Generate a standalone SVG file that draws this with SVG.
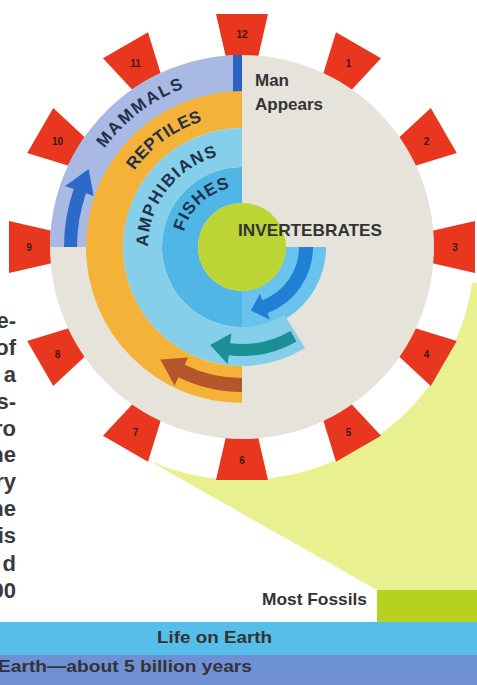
<svg xmlns="http://www.w3.org/2000/svg" width="477" height="685" viewBox="0 0 477 685">
<style>
.tab{fill:#e8361f}
.num{font-family:"Liberation Sans",Arial,sans-serif;font-weight:bold;font-size:10px;fill:#3b1a12;text-anchor:middle}
.band{font-family:"Liberation Sans",Arial,sans-serif;font-weight:bold;font-size:17px;fill:#22304a}
.lbl{font-family:"Liberation Sans",Arial,sans-serif;font-weight:bold;fill:#333333}
.side{font-family:"Liberation Sans",Arial,sans-serif;font-weight:bold;font-size:22px;fill:#3a3a3a;text-anchor:end}
</style>
<defs>
<polygon id="tabshape" points="-15,-185 15,-185 26,-233 -26,-233"/>
<path id="p-mammals" d="M 77.3 209.0 A 169 169 0 0 1 250.8 78.2"/>
<path id="p-reptiles" d="M 113.9 215.1 A 132 132 0 0 1 251.2 115.3"/>
<path id="p-amphibians" d="M 150.1 266.5 A 94 94 0 0 1 238.7 153.1"/>
<path id="p-fishes" d="M 183.5 260.5 A 60 60 0 0 1 259.5 189.6"/>
</defs>
<rect x="0" y="0" width="477" height="685" fill="#ffffff"/>

<g id="cone">
<polygon points="242,247 477,283 477,590 377,590 153,463" fill="#e9f08f"/>
<rect x="377" y="590" width="100" height="32" fill="#b6d21f"/>
</g>
<circle id="ring" cx="242" cy="247" r="233" fill="#ffffff"/>

<g id="tabs">
<g id="tab-12"><use href="#tabshape" class="tab" transform="translate(242 247) rotate(0)"/><text class="num" x="242" y="38">12</text></g>
<g id="tab-1"><use href="#tabshape" class="tab" transform="translate(242 247) rotate(30)"/><text class="num" x="348.5" y="66.5">1</text></g>
<g id="tab-2"><use href="#tabshape" class="tab" transform="translate(242 247) rotate(60)"/><text class="num" x="426.5" y="144.5">2</text></g>
<g id="tab-3"><use href="#tabshape" class="tab" transform="translate(242 247) rotate(90)"/><text class="num" x="455" y="251">3</text></g>
<g id="tab-4"><use href="#tabshape" class="tab" transform="translate(242 247) rotate(120)"/><text class="num" x="426.5" y="357.5">4</text></g>
<g id="tab-5"><use href="#tabshape" class="tab" transform="translate(242 247) rotate(150)"/><text class="num" x="348.5" y="435.5">5</text></g>
<g id="tab-6"><use href="#tabshape" class="tab" transform="translate(242 247) rotate(180)"/><text class="num" x="242" y="464">6</text></g>
<g id="tab-7"><use href="#tabshape" class="tab" transform="translate(242 247) rotate(210)"/><text class="num" x="135.5" y="435.5">7</text></g>
<g id="tab-8"><use href="#tabshape" class="tab" transform="translate(242 247) rotate(240)"/><text class="num" x="57.5" y="357.5">8</text></g>
<g id="tab-9"><use href="#tabshape" class="tab" transform="translate(242 247) rotate(270)"/><text class="num" x="29" y="251">9</text></g>
<g id="tab-10"><use href="#tabshape" class="tab" transform="translate(242 247) rotate(300)"/><text class="num" x="57.5" y="144.5">10</text></g>
<g id="tab-11"><use href="#tabshape" class="tab" transform="translate(242 247) rotate(330)"/><text class="num" x="135.5" y="66.5">11</text></g>
</g>

<circle id="disk" cx="242" cy="247" r="192" fill="#e6e3db"/>

<g id="mammals"><path d="M 50 247 A 192 192 0 0 1 242 55 L 242 92 A 155 155 0 0 0 87 247 Z" fill="#a8b9e4"/>
<rect x="233" y="55" width="9" height="37" fill="#2a62c4"/>
<text class="band" letter-spacing="2"><textPath href="#p-mammals" startOffset="50%" text-anchor="middle">MAMMALS</textPath></text></g>

<g id="reptiles"><path d="M 242 403 A 156 156 0 0 1 242 91 L 242 128 A 119 119 0 0 0 242 366 Z" fill="#f4b338"/>
<text class="band" letter-spacing="0.3"><textPath href="#p-reptiles" startOffset="50%" text-anchor="middle">REPTILES</textPath></text></g>

<g id="fishes"><path d="M 322 247 A 80 80 0 1 1 242 167 L 242 203 A 44 44 0 1 0 286 247 Z" fill="#50b6e6"/>
<path d="M 326 247 A 84 84 0 0 1 242 331 L 242 291 A 44 44 0 0 0 286 247 Z" fill="#68c4ee"/>
<text class="band" letter-spacing="1"><textPath href="#p-fishes" startOffset="50%" text-anchor="middle">FISHES</textPath></text></g>

<g id="amphibians"><path d="M 305.1 347.9 A 119 119 0 1 1 242 128 L 242 167 A 80 80 0 1 0 284.4 314.8 Z" fill="#86cfea"/>
<text class="band" letter-spacing="1.6"><textPath href="#p-amphibians" startOffset="50%" text-anchor="middle">AMPHIBIANS</textPath></text></g>

<g id="invertebrates"><circle cx="242" cy="247" r="44" fill="#bcd535"/>
<text class="lbl" x="238" y="236" font-size="17" textLength="144" lengthAdjust="spacingAndGlyphs" fill="#2a2a2a">INVERTEBRATES</text></g>

<g id="arrows">
<path d="M 313 247 A 71 71 0 0 1 267.4 313.3 L 270.0 319.8 L 250.9 310.4 L 259.9 293.7 L 262.4 300.2 A 57 57 0 0 0 299 247 Z" fill="#1f80d6"/>
<path d="M 296.5 341.4 A 109 109 0 0 1 228.7 355.2 L 227.6 364.1 L 210.2 345.0 L 231.4 333.3 L 230.2 343.3 A 97 97 0 0 0 290.5 331.0 Z" fill="#1a8f96"/>
<path d="M 242 392 A 145 145 0 0 1 178.4 377.3 L 174.5 385.4 L 160.3 359.5 L 188.1 357.6 L 184.6 364.7 A 131 131 0 0 0 242 378 Z" fill="#b5552b"/>
<path d="M 64 247 A 178 178 0 0 1 73.7 189.0 L 65.2 186.1 L 88.7 168.9 L 93.6 195.9 L 86.0 193.3 A 165 165 0 0 0 77 247 Z" fill="#2b6ac8"/>
</g>

<g id="man-appears">
<text class="lbl" x="255" y="86" font-size="17">Man</text>
<text class="lbl" x="255" y="110" font-size="17">Appears</text>
</g>

<g id="side-text">
<text class="side" x="16" y="328">e-</text>
<text class="side" x="16" y="355">of</text>
<text class="side" x="16" y="382">a</text>
<text class="side" x="16" y="409">s-</text>
<text class="side" x="16" y="436">ro</text>
<text class="side" x="16" y="462">he</text>
<text class="side" x="16" y="489">ry</text>
<text class="side" x="16" y="516">he</text>
<text class="side" x="16" y="543">is</text>
<text class="side" x="16" y="571">d</text>
<text class="side" x="16" y="598">00</text>
</g>

<g id="most-fossils"><text class="lbl" x="262" y="605" font-size="17" textLength="105" lengthAdjust="spacingAndGlyphs">Most Fossils</text></g>

<g id="life-band"><rect x="0" y="622" width="477" height="33" fill="#57bee9"/>
<text class="lbl" x="157" y="643" font-size="17" textLength="115" lengthAdjust="spacingAndGlyphs" fill="#24344c">Life on Earth</text></g>
<g id="earth-band"><rect x="0" y="655" width="477" height="30" fill="#7090d6"/>
<text class="lbl" x="-2" y="672" font-size="17" textLength="254" lengthAdjust="spacingAndGlyphs" fill="#1f2a44">Earth—about 5 billion years</text></g>
</svg>
